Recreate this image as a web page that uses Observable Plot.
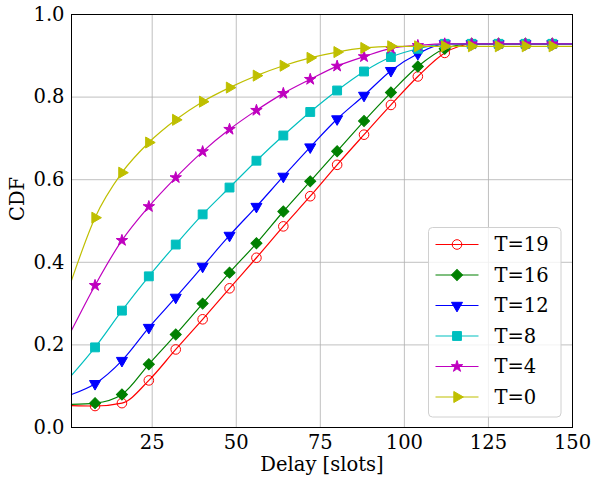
<!DOCTYPE html>
<html><head><meta charset="utf-8">
<script src="https://cdn.jsdelivr.net/npm/d3@7"></script>
<script src="https://cdn.jsdelivr.net/npm/@observablehq/plot@0.6"></script>
<style>
body{margin:0;background:#fff;}
#wrap{position:relative;width:592px;height:479px;}
#legend{position:absolute;left:427.5px;top:226.5px;}
</style></head><body><div id="wrap"></div>
<script>
// Delay [slots] sample positions (line) and marker positions
const slots = [1,8,16,24,32,40,48,56,64,72,80,88,96,104,112,120,128,136,144,150];
const markerSlots = [8,16,24,32,40,48,56,64,72,80,88,96,104,112,120,128,136,144];
const seriesNames = ["T=19","T=16","T=12","T=8","T=4","T=0"];
const cdfT19 = [0.053,0.052,0.059,0.114,0.189,0.262,0.337,0.411,0.487,0.560,0.636,0.709,0.781,0.850,0.907,0.928,0.928,0.928,0.928,0.928];
const cdfT16 = [0.056,0.059,0.080,0.153,0.225,0.300,0.375,0.446,0.523,0.596,0.669,0.742,0.811,0.874,0.917,0.929,0.929,0.929,0.929,0.929];
const cdfT12 = [0.080,0.106,0.162,0.242,0.315,0.390,0.465,0.535,0.608,0.679,0.747,0.804,0.864,0.905,0.929,0.929,0.929,0.929,0.929,0.929];
const cdfT8  = [0.126,0.194,0.283,0.366,0.443,0.516,0.581,0.646,0.707,0.764,0.816,0.862,0.897,0.917,0.929,0.929,0.929,0.929,0.929,0.929];
const cdfT4  = [0.235,0.344,0.453,0.535,0.605,0.668,0.722,0.768,0.809,0.843,0.875,0.898,0.918,0.925,0.929,0.929,0.929,0.929,0.929,0.929];
const cdfT0  = [0.356,0.508,0.617,0.690,0.745,0.789,0.823,0.852,0.876,0.895,0.909,0.919,0.923,0.923,0.923,0.923,0.923,0.923,0.923,0.923];
const xTicks = [25,50,75,100,125,150];
const yTicks = [0,0.2,0.4,0.6,0.8,1.0];

const seriesValues = [cdfT19,cdfT16,cdfT12,cdfT8,cdfT4,cdfT0];
const colors = ["#ff0000","#008000","#0000ff","#00bfbf","#bf00bf","#bfbf00"];
const markers = [
  {symbol:"circle", r:4.8, rotate:0, hollow:true},
  {symbol:"square", r:4.4, rotate:45},
  {symbol:"triangle", r:4.1, rotate:180},
  {symbol:"square", r:5.0, rotate:0},
  {symbol:"star", r:3.6, rotate:0},
  {symbol:"triangle", r:4.1, rotate:90}
];

const font = "DejaVu Serif";
const fs = 19.5;

const marks = [
  Plot.gridX(xTicks, {stroke:"#b0b0b0", strokeOpacity:1, strokeWidth:0.8}),
  Plot.gridY(yTicks, {stroke:"#b0b0b0", strokeOpacity:1, strokeWidth:0.8})
];
seriesNames.forEach((name, i) => {
  const rows = slots.map((s, j) => ({x:s, y:seriesValues[i][j]}));
  const mrows = rows.filter(d => markerSlots.includes(d.x));
  const m = markers[i];
  marks.push(Plot.line(rows, {x:"x", y:"y", stroke:colors[i], strokeWidth:1.2, curve:"monotone-x"}));
  marks.push(Plot.dot(mrows, {x:"x", y:"y", symbol:m.symbol, r:m.r, rotate:m.rotate,
    fill: m.hollow ? "none" : colors[i], stroke:colors[i], strokeWidth:1}));
});
marks.push(
  Plot.frame({stroke:"black", strokeWidth:1}),
  Plot.axisX({ticks:xTicks, tickSize:0, tickPadding:8, fontSize:fs, label:null, tickFormat:d=>String(d)}),
  Plot.axisY({ticks:yTicks, tickSize:0, tickPadding:7, fontSize:fs, label:null, tickFormat:d3.format(".1f")}),
  Plot.text(["Delay [slots]"], {frameAnchor:"bottom", dy:37, fontSize:fs, lineAnchor:"middle", fill:"black"}),
  Plot.text(["CDF"], {frameAnchor:"left", dx:-54, rotate:-90, fontSize:fs, lineAnchor:"middle", fill:"black"})
);

const chart = Plot.plot({
  width:592, height:479,
  marginLeft:71, marginRight:20, marginTop:14, marginBottom:52,
  x:{domain:[1,150]},
  y:{domain:[0,1]},
  style:{fontFamily:font, fontSize:fs+"px", color:"black", background:"white", overflow:"visible"},
  marks
});
const wrap = document.getElementById("wrap");
wrap.appendChild(chart);

// Legend
const lw = 132.5, lh = 189.5;
const leg = d3.select(wrap).append("svg").attr("id","legend")
  .attr("width", lw+2).attr("height", lh+2).style("overflow","visible");
leg.append("rect").attr("x",0.5).attr("y",0.5).attr("width",lw).attr("height",lh)
  .attr("rx",4).attr("fill","white").attr("fill-opacity",0.8).attr("stroke","#d0d0d0");
const symMap = {circle:d3.symbolCircle, square:d3.symbolSquare, triangle:d3.symbolTriangle, star:d3.symbolStar};
seriesNames.forEach((name, i) => {
  const cy = 17.5 + i*30.5;
  const g = leg.append("g");
  g.append("line").attr("x1",7.5).attr("x2",50.5).attr("y1",cy).attr("y2",cy)
    .attr("stroke",colors[i]).attr("stroke-width",1.2);
  const m = markers[i];
  g.append("path").attr("d", d3.symbol(symMap[m.symbol], Math.PI*m.r*m.r)())
    .attr("transform",`translate(29,${cy}) rotate(${m.rotate})`)
    .attr("fill", m.hollow ? "none" : colors[i]).attr("stroke",colors[i]).attr("stroke-width",1);
  g.append("text").attr("x",66.5).attr("y",cy).attr("dy","0.35em")
    .attr("font-family",font).attr("font-size",fs).attr("fill","black").text(name);
});
</script></body></html>
